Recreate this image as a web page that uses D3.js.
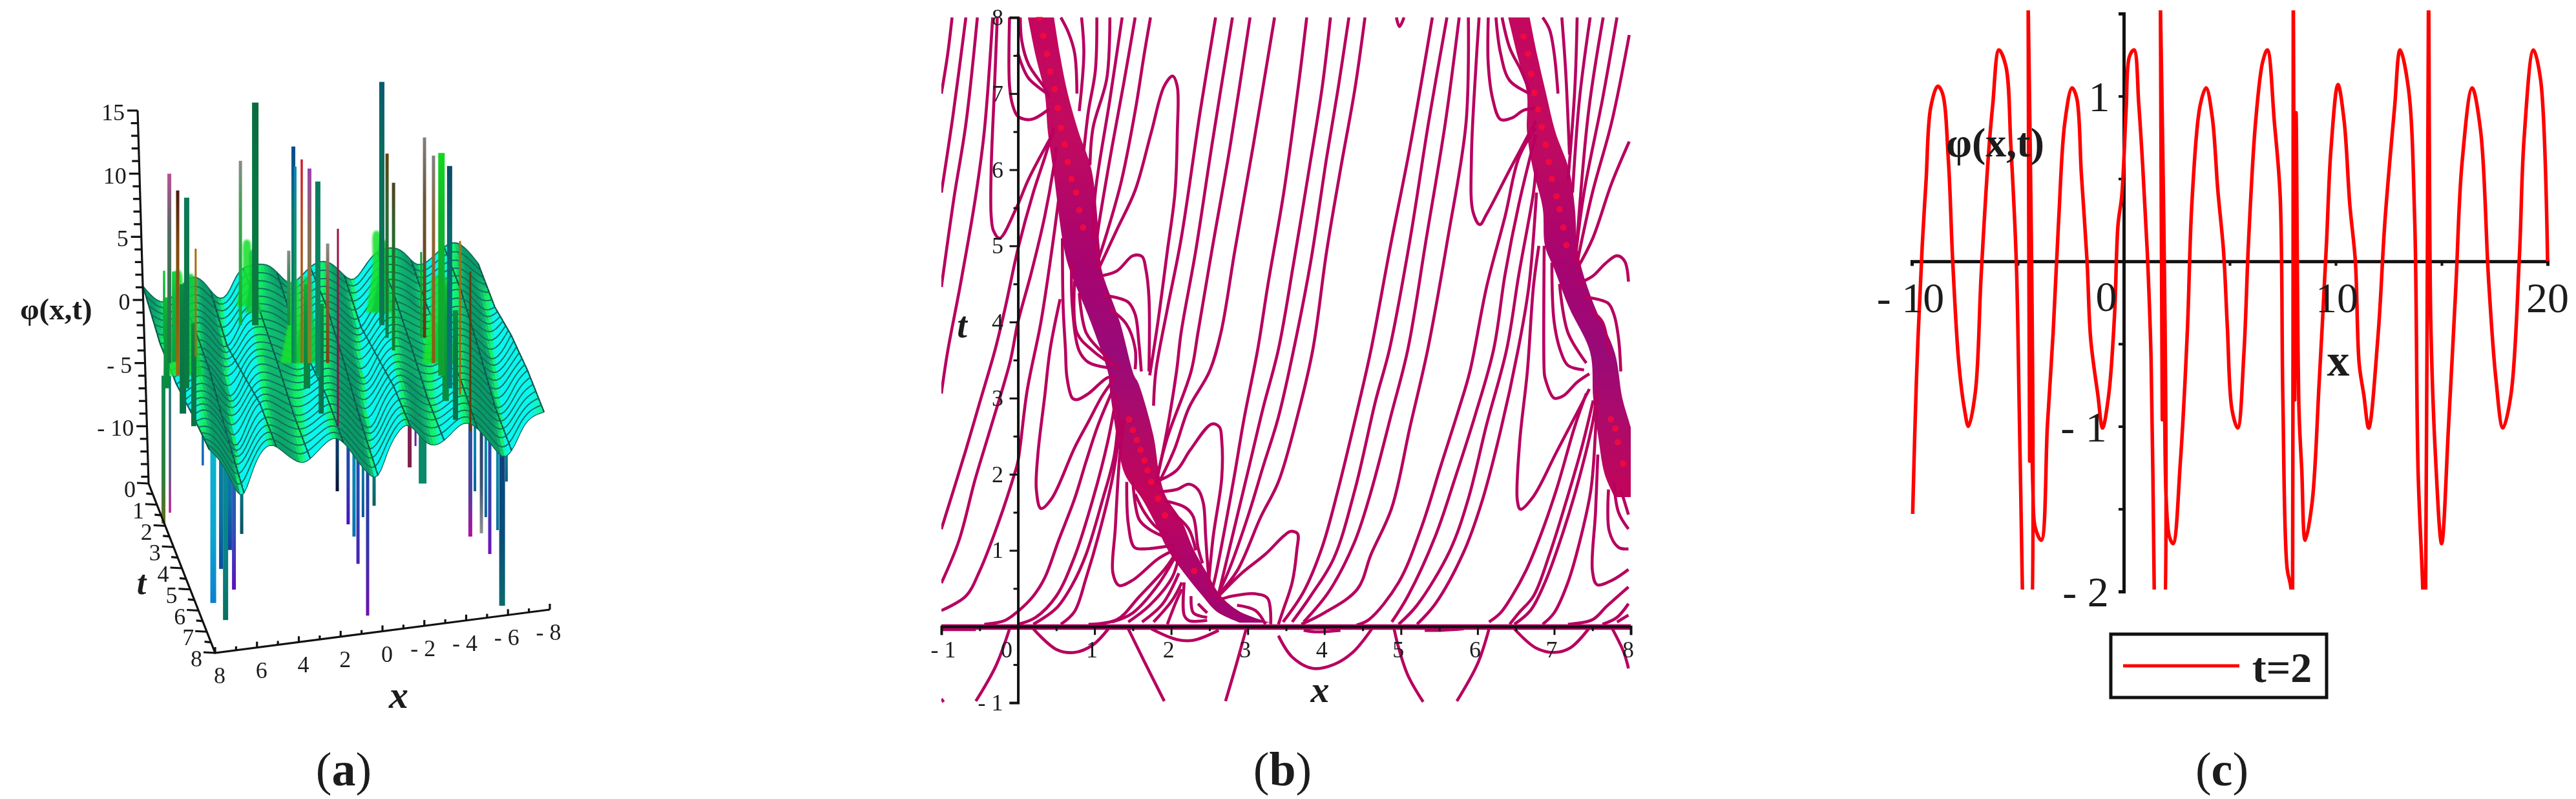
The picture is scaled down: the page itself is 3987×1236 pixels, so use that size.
<!DOCTYPE html>
<html><head><meta charset="utf-8">
<script src="https://cdn.jsdelivr.net/npm/d3@7"></script>
<style>html,body{margin:0;background:#fff}svg{display:block}text{font-family:"Liberation Serif",serif;fill:#1c1c1c}</style>
</head><body><svg id="c" width="3987" height="1236"></svg>
<script>
// ===== PANEL (a) DATA: phi read on the surface, rows t=0,2,4,6,8; columns x=8 ... -8 in 0.5 steps =====
const surfaceT=[0,2,4,6,8];
const surfaceX=d3.range(33).map(i=>8-i*0.5);
const phiT0=[.64,-.5,-1,-.4,.6,1,.2,-1.2,-1.2,.8,1.2,1.2,1.1,.2,-.9,-.3,.5,.85,.6,-.4,-1.3,-.3,.8,1.15,1.15,.7,-.6,-.5,.2,.8,1,.2,-1];
const phiT2=[-.54,-.72,-.12,.72,.8,-.22,-1.8,-1.15,.75,1.15,.95,.67,-.1,-.77,-.12,.6,.69,.15,-.9,-1.78,-.4,.75,1.19,.89,.3,-.66,-.42,.3,.75,.66,-.22,-1.45,-1.1];
const phiT4=[-.45,.15,.85,.6,-.65,-2.4,-1.1,.7,1.1,.7,.25,-.4,-.65,.05,.7,.5,-.3,-1.4,-2.25,-.5,.7,1.2,.6,-.1,-.7,-.35,.4,.7,.3,-.65,-1.9,-1.4,.05];
const phiT6=[.43,.98,.4,-1.07,-3,-1.05,.65,1.05,.45,-.18,-.74,-.52,.22,.8,.36,-.75,-1.9,-2.72,-.6,.65,1.26,.36,-.5,-.79,-.27,.5,.65,-.01,-1.07,-2.35,-1.7,-.02,.6];
const phiT8=[1.1,.2,-1.5,-3.6,-1,.6,1,.2,-.6,-1.05,-.4,.4,.9,.2,-1.2,-2.4,-3.2,-.7,.6,1.3,.1,-.9,-.85,-.2,.6,.6,-.35,-1.5,-2.8,-2,-.1,.5,.64];
// tall spikes above the surface: position read on the x axis, top level, level where it enters the surface
const upX=[7.14,6.76,6.36,5.84,.43,-.25,-6.2,-6.67,7.01,6.61,6.18,5.75,7.26,3.61,2.9,1.3,1.08,.99,.68,.31,-.09,-.56,-1.05,-3.15,-3.4,-3.71,-5.19,-5.62,-6,-6.39,-6.89,-7.38,-5.03];
const upTop=[.2,2.26,1.24,-1.84,1.24,-.3,1.24,-.81,10,8.67,8.1,4.06,2.32,11.02,15.63,3.9,12.15,10.56,11.13,10.41,9.38,4.47,5.64,17.27,11.59,9.28,12.87,11.43,11.64,10.61,4.67,2.26,3.8];
const upBase=[-7,-4.9,-9,-10,-7,-9,-8,-9.5,-5,-6,-7,-4.5,-3,-2,-2,-2,-5,-5,-5,-5,-6,-5,-10,-2,-3,-4,-3,-5,-6,-7,-7.5,-10.4,-3];
// spikes below the surface
const downX=[7.29,6.98,5.41,4.91,4.54,4.32,4.11,3.92,3.55,-1.02,-1.54,-1.82,-2.01,-2.25,-2.47,-2.78,-4.48,-4.76,-5.1,-7.38,-7.6,-7.91,-8.12,-8.31,-8.68,-8.9,-9.11];
const downBottom=[-17.7,-16.85,-13.1,-24,-21.3,-25.35,-19.8,-22.94,-18.53,-15.15,-17.77,-18.74,-20.9,-17.2,-25,-16.3,-13.26,-11.57,-14.54,-18.74,-15.15,-18.48,-17.2,-20.12,-18.23,-24.22,-14.38];
// bright green humps around the spike clusters
const humpX=[6.6,6.0,3.3,3.0,1.0,.4,-2.9,-3.2,-5.7,-6.1];
const humpTop=[2.3,2.0,4.7,3.9,1.6,1.8,5.4,4.7,1.9,1.8];
const humpBase=[-6,-6,-.5,-1,-5,-5,-1,-1,-5,-5];

// ===== PANEL (b) DATA: contour polylines [x,t] =====
const contoursFarLeft=[
[[-1,7],[-.92,7.5],[-.86,8]],[[-1,5.7],[-.85,6.7],[-.68,8]],[[-1,4.46],[-.84,5.6],[-.68,6.6],[-.53,8]],
[[-1,3.06],[-.92,3.6],[-.75,4.5],[-.56,5.6],[-.44,6.5],[-.33,8]],
[[-.27,8],[-.31,7],[-.35,6],[-.35,5.4],[-.32,5.2],[-.24,5.1],[-.02,5.5],[.14,5.88],[.47,6.5]],
[[-.11,8],[-.11,7.1],[-.07,6.85],[0,6.7],[.17,6.66],[.41,6.8]],
[[.03,8],[.05,7.69],[.14,7.38],[.35,7.07],[.41,6.95]],[[0,7.53],[.05,7.38],[.14,7.2],[.41,6.98]],
[[-1,1.28],[-.68,2.32],[-.5,2.94],[-.3,3.63],[-.17,4.17],[0,4.96],[.2,5.7],[.35,6.16],[.47,6.55]],
[[-1,.57],[-.77,1.13],[-.56,1.93],[-.35,2.63],[-.1,3.49],[0,4],[.17,4.63],[.35,5.39],[.47,6.06],[.5,6.3]],
[[-1,.21],[-.68,.4],[-.5,.73],[-.26,1.35],[-.05,1.99],[0,2.17],[.12,3.1],[.3,4],[.45,5],[.53,5.6]],
[[-.44,.03],[-.17,.08],[0,.2],[.2,.4],[.35,.64],[.53,1.13],[.74,1.68],[.89,2.17],[1.04,2.63],[1.23,3.09]],
[[0,.03],[.23,.12],[.5,.4],[.74,.92],[.98,1.68],[1.17,2.42],[1.29,3.06]],
[[.56,.03],[.74,.2],[.89,.64],[1.05,1.19],[1.23,1.93],[1.35,2.72]],
[[.2,.03],[.5,.24],[.71,.55],[.89,.95],[1.1,1.65],[1.26,2.26],[1.32,2.9]],
[[.55,4.3],[.42,3.64],[.35,3.03],[.26,2.26],[.24,1.8],[.3,1.55],[.44,1.68],[.74,2.35],[.92,2.69],[1.1,3.03],[1.26,3.26]],
[[.58,5.1],[.59,4.2],[.62,3.64],[.64,3.27],[.71,3],[.77,2.98],[.92,3.06],[1.17,3.27],[1.27,3.28]],
[[.7,4.78],[.71,4.2],[.8,3.62],[.92,3.47],[1.17,3.4]],[[.74,4.54],[.77,3.86],[.98,3.62],[1.23,3.44]],[[.8,4.38],[.89,3.86],[1.1,3.6],[1.32,3.38]]
];
const contoursBandOneRight=[
[[1.73,8],[1.65,7.53],[1.53,6.77],[1.35,5.85],[1.17,5.2],[1.02,4.73]],[[1.53,8],[1.38,7.13],[1.23,6.31],[1.05,5.24],[1.01,4.93]],
[[1.36,8],[1.2,6.92],[1.01,5.7],[.98,5.09]],[[1.2,8],[1.16,7.2],[.98,6.55],[.94,6.06]],[[1.03,8],[1.01,7.3],[.92,6.77],[.86,6.25]],
[[.83,8],[.86,7.53],[.8,6.77]],[[.56,8],[.66,7.8],[.74,7.53],[.77,7]],
[[1.05,4.69],[1.29,5.21],[1.53,5.73],[1.74,6.49],[1.91,7.1],[2.02,7.23],[2.08,7.09],[2.08,6.49],[2.05,5.7],[1.95,4.93],[1.83,4.02],[1.72,3.3]],
[[1.05,4.6],[1.29,4.67],[1.5,4.87],[1.62,4.86],[1.67,4.69],[1.71,4.32],[1.71,3.35]],
[[1.1,4.35],[1.29,4.32],[1.44,4.26],[1.53,4.1],[1.58,3.71],[1.61,3.35]],[[1.2,4.17],[1.41,3.98],[1.53,3.65],[1.53,3.38]],
[[2.58,8],[2.38,6.77],[2.13,5.09],[1.95,4.17],[1.8,3.35],[1.77,2.9]],[[2.8,8],[2.53,6.31],[2.32,4.93],[2.13,3.86],[2.07,3.35],[1.95,2.6],[1.83,2]],
[[3.03,8],[2.77,6.31],[2.53,4.93],[2.35,3.86],[2.26,3.35],[1.95,2.48],[1.8,1.9]],[[3.35,8],[3.07,6.31],[2.83,4.93],[2.65,3.86],[2.5,3.35],[2.23,2.87],[2.04,2.32],[1.83,1.87]],
[[1.8,1.9],[2.07,2.05],[2.25,2.32],[2.53,2.66],[2.63,2.62],[2.66,2.45],[2.66,1.95],[2.55,1.19],[2.49,.58]],
[[1.83,1.77],[2.07,1.8],[2.23,1.87],[2.35,1.8],[2.42,1.62],[2.45,1.19],[2.47,.89],[2.5,.55]],
[[1.92,1.65],[2.19,1.56],[2.29,1.44],[2.35,1.04],[2.41,.83]],[[2.01,1.5],[2.23,1.28],[2.32,1]],
[[2.6,.34],[2.8,.4],[3.1,.43],[3.26,.37],[3.3,.03]],[[2.86,.28],[3.1,.21],[3.23,.03]],
[[2.62,.4],[2.92,.7],[3.23,.95],[3.47,1.19],[3.56,1.25],[3.65,1.22],[3.64,1],[3.58,.58],[3.46,.21],[3.4,.03]]
];
const contoursBandOneLower=[
[[2.17,.58],[2.17,.15],[2.23,.08],[2.47,.08]],[[2.26,.4],[2.29,.18],[2.47,.12]],[[2.35,.3],[2.47,.18]],
[[.92,.03],[1.29,.09],[1.59,.4],[1.92,.76],[2.07,.98]],[[1.23,.06],[1.5,.18],[1.83,.55],[2.07,.95]],[[1.44,.06],[1.71,.27],[2.01,.64],[2.1,.92]],
[[1.62,.06],[1.89,.3],[2.1,.7]],[[1.77,.06],[2.01,.34],[2.14,.58]],[[1.95,.03],[2.07,.34],[2.14,.49]],
[[1.39,2.72],[1.33,2.26],[1.27,1.28],[1.24,.7],[1.32,.54],[1.5,.61],[1.83,.89],[2.05,1.01]],
[[1.42,1.9],[1.44,1.35],[1.52,1.04],[1.65,1.02],[2.05,1.07]],[[1.5,1.9],[1.58,1.41],[1.71,1.28],[1.95,1.16]],[[1.53,1.74],[1.65,1.5],[1.8,1.31],[1.95,1.22]]
];
const contoursMiddle=[
[[3.77,8],[3.67,7.17],[3.47,5.7],[3.26,4.47],[3.13,3.64],[2.95,2.72],[2.83,2.01],[2.71,1.34],[2.56,.58],[2.49,.35]],
[[4.08,8],[3.97,7.07],[3.8,6],[3.6,4.78],[3.4,3.64],[3.2,2.87],[3.02,2.11],[2.86,1.44],[2.62,.43]],
[[4.32,8],[4.18,7.07],[4.03,6.16],[3.82,4.78],[3.6,3.64],[3.4,2.75],[3.2,2.1],[3,1.44],[2.75,.73],[2.6,.4]],
[[4.53,8],[4.4,7.07],[4.21,6],[4.03,4.93],[3.85,3.64],[3.66,2.81],[3.4,1.9],[3.17,1.44],[2.86,.73],[2.6,.4]],
[[5.41,8],[5.12,6.31],[4.85,4.93],[4.61,3.64],[4.43,2.84],[4.18,1.8],[3.97,1.04],[3.73,.46],[3.46,.06]],
[[5.6,8],[5.36,6.62],[5.12,5.09],[4.85,3.64],[4.67,2.97],[4.4,1.8],[4.12,.89],[3.82,.4],[3.58,.06]],
[[5.76,8],[5.58,6.62],[5.33,5.09],[5.09,3.64],[4.88,2.81],[4.6,1.74],[4.39,1.1],[4.06,.46],[3.73,.06]],
[[5.88,8],[5.85,6.62],[5.61,5.09],[5.35,3.64],[5.12,2.63],[4.88,1.56],[4.61,.95],[4.43,.49],[4,.18],[3.7,.03]],
[[4.94,8],[4.98,7.88],[5.04,8]],
[[6.76,6.55],[6.54,6.16],[6.36,5.39],[6.12,4.47],[5.9,3.35],[5.76,2.87],[5.52,2.11],[5.27,1.31],[4.97,.58],[4.58,.09],[4.42,.02]],
[[6.76,6.46],[6.54,5.55],[6.36,4.63],[6.21,3.64],[5.97,2.78],[5.7,1.93],[5.45,1.19],[5.09,.4],[4.88,.06]],
[[6.76,6],[6.73,5.7],[6.54,4.63],[6.38,3.64],[6.12,2.66],[5.88,1.68],[5.64,1],[5.21,.28],[4.97,.03]],
[[6.77,5.7],[6.67,4.47],[6.53,3.64],[6.3,2.57],[6.06,1.65],[5.82,.98],[5.45,.3],[5.21,.03]]
];
const contoursBandTwo=[
[[6.02,8],[5.98,7.38],[5.92,6.16],[5.94,5.45],[6.03,5.28],[6.12,5.42],[6.42,6],[6.76,6.64]],
[[6.14,8],[6.14,7.38],[6.2,6.92],[6.3,6.66],[6.45,6.68],[6.6,6.78],[6.76,6.81]],
[[6.24,8],[6.3,7.53],[6.42,7.17],[6.68,7]],[[6.32,8],[6.42,7.6],[6.57,7.3],[6.69,7]],
[[6.85,8],[6.94,7.84],[7,7.53],[7.05,7]],[[7.1,8],[7.15,7.3],[7.2,6.2]],[[7.3,8],[7.27,7.07],[7.18,5.85]],[[7.47,8],[7.33,6.92],[7.24,5.7]],
[[7.64,8],[7.45,6.77],[7.3,5.09]],[[7.82,8],[7.63,6.92],[7.39,5.7],[7.27,4.78]],[[7.98,7.77],[7.75,6.62],[7.5,5.7],[7.3,4.78]],[[7.98,6.37],[7.75,5.82],[7.5,5.09],[7.3,4.7]],
[[7.3,4.5],[7.5,4.6],[7.67,4.77],[7.82,4.87],[7.92,4.8],[7.97,4.53]],[[7.39,4.33],[7.7,4.25],[7.78,4.1],[7.84,3.79],[7.87,3.35]],[[7.48,4.15],[7.63,4],[7.72,3.57]],
[[6.8,5],[6.73,4.47],[6.65,3.35],[6.55,2.42],[6.52,1.65],[6.56,1.54],[6.73,1.71],[7.03,2.29],[7.3,2.81],[7.46,3.12]],
[[6.87,5],[6.87,3.35],[6.88,3.27],[7,3],[7.12,3.03],[7.3,3.21],[7.46,3.32]],
[[6.97,4.78],[7,4],[7.09,3.6],[7.18,3.43],[7.39,3.37]],[[7.07,4.5],[7.18,3.86],[7.42,3.46]],
[[6.85,.03],[7,.18],[7.18,.58],[7.33,1.1],[7.48,1.8],[7.54,2.57],[7.56,3.03]],
[[6.48,.03],[6.69,.21],[6.88,.58],[7.12,1.25],[7.33,1.96],[7.51,2.72],[7.56,3.12]],
[[6.42,.03],[6.54,.18],[6.73,.4],[6.94,.95],[7.15,1.62],[7.36,2.35],[7.51,2.97]],
[[6.15,.06],[6.3,.18],[6.45,.4],[6.63,.73],[6.82,1.19],[7.03,1.8],[7.27,2.63],[7.42,3.06]],
[[7.18,.03],[7.5,.09],[7.69,.27],[7.97,.52]],[[7.63,.03],[7.82,.12],[7.97,.3]],[[7.82,.06],[7.97,.15]],
[[7.57,2.26],[7.54,1.5],[7.5,.73],[7.56,.55],[7.76,.61],[7.97,.75]],[[7.71,1.8],[7.72,1.25],[7.84,1.04],[7.97,1.02]],[[7.78,1.9],[7.84,1.5],[7.97,1.28]],[[7.87,1.8],[7.97,1.47]]
];
const contoursBelow=[
[[.2,-.03],[.5,-.3],[.74,-.34],[.98,-.24],[1.18,-.03]],[[1.44,-.03],[1.65,-.46],[1.91,-.98]],[[1.74,-.03],[2.07,-.17],[2.29,-.18],[2.62,-.05]],
[[2.98,-.03],[2.85,-.5],[2.71,-.98]],[[-.11,-.03],[-.29,-.52],[-.55,-.98]],[[-1,-.95],[-.97,-.99]],
[[3.4,-.12],[3.58,-.4],[3.85,-.55],[4.12,-.5],[4.37,-.34],[4.62,-.03]],[[3.73,-.05],[3.88,-.07],[4.21,-.05]],
[[4.91,-.03],[4.97,-.28],[5.09,-.64],[5.29,-.99]],[[6.15,-.03],[6,-.49],[5.73,-.98]],[[5.31,-.05],[5.52,-.05],[5.82,-.03]],
[[6.48,-.03],[6.76,-.28],[7,-.34],[7.21,-.28],[7.45,-.03]],[[7.76,-.03],[7.91,-.34],[7.97,-.55]],[[-1,-.04],[-.55,-.04]],
[[-1,.01],[8,.01]]
];
// the two dense bands of contours: t, centre x, width in x
const bandT=[8,7.5,7,6.5,6,5,4.7,4,3.3,3.2,2.5,2,1.7,1.4,1,.7,.4,.2,.05];
const bandOneCentre=[.3,.39,.5,.59,.71,.83,.88,1.14,1.35,1.38,1.53,1.62,1.77,1.95,2.13,2.32,2.53,2.74,3.1];
const bandOneWidth=[.34,.32,.3,.4,.5,.47,.42,.38,.33,.38,.48,.45,.33,.36,.34,.3,.24,.3,.4];
const bandTwoT=[8,7.5,7,6.5,6,5.5,5,4.7,4.2,3.6,3,2.5,2,1.7];
const bandTwoCentre=[6.54,6.65,6.77,6.83,6.96,7.06,7.09,7.18,7.36,7.63,7.7,7.8,7.86,7.91];
const bandTwoWidth=[.28,.26,.25,.37,.47,.42,.42,.36,.34,.32,.38,.45,.4,.24];
const hotX=[.28,.33,.38,.42,.48,.52,.56,.61,.65,.7,.76,.8,.85,1.45,1.5,1.55,1.6,1.65,1.69,1.74,1.83,1.92,2.3,6.6,6.66,6.7,6.74,6.79,6.84,6.89,6.93,6.97,7.03,7.07,7.12,7.16,7.74,7.8,7.83,7.9];
const hotT=[8,7.76,7.52,7.29,7.06,6.81,6.55,6.33,6.1,5.88,5.7,5.47,5.24,2.72,2.58,2.45,2.32,2.18,2.05,1.9,1.68,1.46,.73,7.75,7.52,7.26,7.01,6.79,6.56,6.33,6.1,5.88,5.65,5.48,5.24,5.01,2.72,2.6,2.42,2.14];

// ===== PANEL (c) DATA =====
const seriesX=[-9.96,-9.78,-9.51,-9.33,-9.11,-8.78,-8.56,-8.27,-8.07,-7.78,-7.51,-7.33,-7,-6.73,-6.38,-6.18,-5.89,-5.56,-5.33,-5.07,-4.93,-4.78,-4.71,-4.58,-4.51,-4.44,-4.38,-4.29,-4.18,-3.89,-3.6,-3.33,-3.07,-2.78,-2.44,-2.22,-2,-1.73,-1.56,-1.22,-1,-.71,-.44,-.27,-.09,.11,.27,.49,.71,.89,1.11,1.29,1.44,1.51,1.67,1.73,1.82,1.89,2,2.16,2.33,2.67,3,3.22,3.6,3.89,4.18,4.44,4.71,4.89,5.11,5.38,5.67,5.89,6.22,6.56,6.78,7.11,7.38,7.51,7.71,7.89,7.96,8,8.07,8.13,8.27,8.4,8.56,8.89,9.22,9.56,9.78,10.11,10.4,10.67,10.93,11.11,11.33,11.56,12,12.33,12.78,13.04,13.44,13.73,13.89,14.11,14.22,14.38,14.49,14.71,15,15.33,15.67,15.96,16.44,16.84,17.22,17.56,17.89,18.27,18.67,18.89,19.33,19.67,20];
const seriesPhi=[-1.53,-.71,.09,.48,.93,1.06,1.02,.6,0,-.62,-.9,-1,-.79,-.09,.65,.95,1.28,1.18,.71,0,-.9,-2,-2.6,-2.6,1.6,-1.21,-.71,-1.36,-1.61,-1.69,-.99,-.43,.25,.84,1.05,.99,.53,0,-.47,-.81,-1.01,-.81,-.34,.22,.4,.91,1.24,1.28,.95,.59,.06,-.59,-2,-2.6,-2.6,1.6,-.96,.09,-1.43,-1.67,-1.71,-1.22,-.43,.36,.94,1.05,.87,.43,.06,-.4,-.9,-1.01,-.56,.12,.84,1.21,1.28,.84,.4,-.84,-1.86,-1.98,-2.6,1.6,-.84,.9,-.9,-1.26,-1.69,-1.46,-.74,.09,.68,1.07,.85,.34,0,-.62,-.81,-1.01,-.45,.25,.93,1.28,1.04,.25,-1.27,-1.98,-2.6,1.6,-.37,-1.18,-1.71,-.99,-.16,.59,1.05,.79,-.12,-.71,-1.01,-.81,.03,.74,1.28,1.1,0];
const legendLabel="t=2";

// ===== DRAWING =====
const svg=d3.select("#c"),defs=svg.append("defs");
const txt=(g,s,x,y,size,o={})=>g.append("text").attr("x",x).attr("y",y).attr("font-size",size).attr("text-anchor",o.anchor||"middle").attr("dominant-baseline","central").attr("font-weight",o.weight||"normal").attr("font-style",o.style||"normal").text(s);

// ---- (a) ----
const A=svg.append("g");
const axX=d3.scaleLinear().domain([8,-8]).range([230,748]), axXy=d3.scaleLinear().domain([8,-8]).range([748,681]);
const tDx=d3.scaleLinear().domain([0,8]).range([0,103]), tDy=d3.scaleLinear().domain([0,8]).range([0,262]);
const zDx=d3.scaleLinear().domain([-15,15]).range([0,-17]), zDy=d3.scaleLinear().domain([-15,15]).range([0,-586]);
const P=(x,t,p)=>[axX(x)+tDx(t)+zDx(p),axXy(x)+tDy(t)+zDy(p)];
const zReadY=d3.scaleLinear().domain([-15,15]).range([757,171]);
const slopeColor=d3.scaleLinear().domain([-1.6,-.7,-.25,.2,.55,1]).range(["#0a9a64","#10c070","#10f060","#12f478","#10f5c8","#08f6f0"]).clamp(true);
function spike(g,xr,top,bot,w,c1,c2,flip,id){
  const gr=defs.append("linearGradient").attr("id",id).attr("x1",0).attr("x2",0).attr("y1",flip?1:0).attr("y2",flip?0:1);
  gr.append("stop").attr("offset","0%").attr("stop-color",c1);
  gr.append("stop").attr("offset","30%").attr("stop-color",d3.interpolateRgb(c1,c2)(.6));
  gr.append("stop").attr("offset","100%").attr("stop-color",c2);
  g.append("rect").attr("x",axX(xr)-w/2).attr("width",w).attr("y",zReadY(top)).attr("height",zReadY(bot)-zReadY(top)).attr("fill",`url(#${id})`);
}
const downStyle=[[6,"#6a6a20","#0a8a50"],[3.5,"#c01890","#0a7a70"],[3.5,"#1060c0","#0a8a90"],[9,"#0a80d0","#0ac0d0"],[6,"#0a50a0","#0a90a0"],[8,"#0a7060","#0a90a8"],[6,"#1040a0","#0a90b0"],[6,"#6010c0","#0a80b0"],[5,"#0a5060","#0a90a0"],
[5,"#0a1030","#0a5080"],[5,"#5010c0","#0a60a0"],[5,"#0a70b0","#0a90b0"],[5,"#5020b0","#0a60b0"],[4,"#0a50a0","#0a90a0"],[5,"#7010b0","#0a50a0"],[5,"#0a6060","#0a90a0"],
[6,"#802050","#802050"],[3,"#7020a0","#7020a0"],[12,"#0a8a6a","#0a8a6a"],[6,"#b010a0","#0a60a0"],[4,"#0a60a0","#0a90b0"],[5,"#909090","#0a2a60"],[4,"#0a60a0","#0a90b0"],[5,"#7010c0","#0a60a0"],[4,"#0a70a0","#0a90b0"],[9,"#0a6a70","#0a3a80"],[4,"#0a6080","#0a90a0"]];
downX.forEach((x,i)=>spike(A,x,-6,downBottom[i],downStyle[i][0],downStyle[i][1],downStyle[i][2],true,"dn"+i));
// surface
const NU=100,NT=48;
const rowAt=d3.piecewise(d3.interpolateArray,[phiT0,phiT2,phiT4,phiT6,phiT8]);
const grid=d3.range(NT+1).map(i=>{const f=d3.interpolateBasis(rowAt(i/NT));return d3.range(NU+1).map(j=>f(j/NU));});
const tOf=i=>surfaceT[0]+(surfaceT[4]-surfaceT[0])*i/NT, xOf=d3.scaleLinear().domain([0,NU]).range([surfaceX[0],surfaceX[32]]);
const lineGen=d3.line();
const sg=A.append("g");
for(let i=0;i<NT;i++){
  for(let j=0;j<NU;j++){
    const a=P(xOf(j),tOf(i),grid[i][j]),b=P(xOf(j+1),tOf(i),grid[i][j+1]),c=P(xOf(j+1),tOf(i+1),grid[i+1][j+1]),d=P(xOf(j),tOf(i+1),grid[i+1][j]);
    const s=(grid[i][j+1]+grid[i+1][j+1]-grid[i][j]-grid[i+1][j])/2/.16;
    const col=slopeColor(s);
    sg.append("polygon").attr("points",[a,b,c,d].join(" ")).attr("fill",col).attr("stroke",col).attr("stroke-width",.8);
  }
  for(let j=0;j<=NU;j+=10){
    sg.append("path").attr("d",lineGen([P(xOf(j),tOf(i),grid[i][j]),P(xOf(j),tOf(i+1),grid[i+1][j])])).attr("stroke","#0a5048").attr("stroke-width",2.2).attr("fill","none");
  }
  if(i%2==0) sg.append("path").attr("d",lineGen(d3.range(NU+1).map(j=>P(xOf(j),tOf(i),grid[i][j])))).attr("fill","none").attr("stroke","#0f7060").attr("stroke-width",1.9);
}
sg.append("path").attr("d",lineGen(d3.range(NU+1).map(j=>P(xOf(j),8,grid[NT][j])))).attr("fill","none").attr("stroke","#0d6050").attr("stroke-width",1.2);
// humps
const blur=defs.append("filter").attr("id","soft"); blur.append("feGaussianBlur").attr("stdDeviation",1.8);
const humps=A.append("g").attr("filter","url(#soft)");
const humpWidths=[44,38,34,26,46,46,32,34,40,40];
const humpLine=d3.line().curve(d3.curveCatmullRom);
humpX.forEach((x,i)=>{const w=humpWidths[i],cx0=axX(x),t0=zReadY(humpTop[i]),b0=zReadY(humpBase[i]);
  humps.append("path").attr("d",humpLine([[cx0-w/2,b0],[cx0-w/5,(t0*.55+b0*.45)],[cx0-4,t0],[cx0+4,t0],[cx0+w/5,(t0*.55+b0*.45)],[cx0+w/2,b0]])+"Z").attr("fill",i%2?"#10c838":"#14e02c").attr("opacity",.88);});
const upStyle=[[9,"#10c030","#0a8a40"],[8,"#12d840","#0aa040"],[10,"#0a8a40","#0a7048"],[8,"#0a9040","#0a7048"],[10,"#10b030","#0a8040"],[8,"#0a9040","#0a7048"],[10,"#10c030","#0a8a40"],[8,"#0a9040","#0a7048"],
[6,"#b85098","#10803c"],[5,"#4a1a10","#a06a10"],[8,"#0a7a58","#0a7a40"],[3,"#b06a10","#a06a10"],[3.5,"#18d030","#10a040"],[5,"#8a8a8a","#10b030"],[10,"#0a6a40","#0a7a40"],[5,"#8a8a8a","#109040"],[6,"#0a4a90","#0a8a60"],[4,"#1080c0","#10a040"],[3.5,"#d01830","#a06a10"],[6,"#a040b0","#7a8a20"],[8,"#0a7a60","#0a8a60"],[5,"#8a8a8a","#804010"],[3,"#a01040","#8a1050"],
[8,"#0a5a70","#0a7a50"],[5,"#604010","#108040"],[5,"#504020","#108030"],[5,"#808080","#603808"],[5,"#808080","#905810"],[10,"#10d820","#10a030"],[8,"#0a4a68","#0a7a70"],[3,"#b07010","#a06010"],[3,"#604010","#603808"],[3,"#10a030","#10a030"]];
upX.forEach((x,i)=>spike(A,x,upTop[i],upBase[i],upStyle[i][0],upStyle[i][1],upStyle[i][2],false,"up"+i));
// axes of (a)
const ink=A.append("g").attr("stroke","#111").attr("stroke-width",3.2).attr("fill","none");
const zPos=v=>[230-(v+15)/30*17,zReadY(v)];
ink.append("path").attr("d",lineGen([zPos(15),[230,748],[333,1010],[851,943]]));
const zMajor=[15,10,5,0,-5,-10];
d3.range(-14,16).forEach(v=>{const p=zPos(v),l=v%5==0?16:11;ink.append("path").attr("d",lineGen([p,[p[0]-l,p[1]]]));});
zMajor.forEach(v=>{const p=zPos(v);txt(A,v<0?"- "+(-v):""+v,p[0]-20,p[1]+3,36,{anchor:"end"});});
const tPos=t=>[230+tDx(t),748+tDy(t)];
d3.range(0,8.01,.5).forEach(t=>{const p=tPos(t),l=t%1==0?18:10;ink.append("path").attr("d",lineGen([p,[p[0]-l,p[1]-1]]));});
d3.range(0,9).forEach(t=>{const p=tPos(t);txt(A,""+t,p[0]-29,p[1]+9,36);});
d3.range(-8,8.01,1).forEach(x=>{const p=[axX(x)+103,axXy(x)+262],l=x%2==0?9:6;ink.append("path").attr("d",lineGen([p,[p[0],p[1]-l]]));});
d3.range(-8,9,2).forEach(x=>{const p=[axX(x)+103,axXy(x)+262];txt(A,x<0?"- "+(-x):""+x,p[0]+(x<0?-2:7),p[1]+35,36);});
txt(A,"φ(x,t)",87,478,47,{weight:"bold"});
txt(A,"t",219,901,52,{weight:"bold",style:"italic"});
txt(A,"x",617,1075,60,{weight:"bold",style:"italic"});
function cap(x,l){const t=svg.append("text").attr("x",x).attr("y",1190).attr("font-size",74).attr("text-anchor","middle").attr("dominant-baseline","central");t.append("tspan").text("(");t.append("tspan").attr("font-weight","bold").text(l);t.append("tspan").text(")");}
cap(532,"a");cap(1985,"b");cap(3439,"c");

// ---- (b) ----
const B=svg.append("g");
const bx=d3.scaleLinear().domain([-1,8]).range([1457,2524]), by=d3.scaleLinear().domain([-1,8]).range([1087,27]);
defs.append("clipPath").attr("id","clipB").append("rect").attr("x",1457).attr("y",26).attr("width",1067).attr("height",1062);
const bp=B.append("g").attr("clip-path","url(#clipB)");
const cline=d3.line().x(d=>bx(d[0])).y(d=>by(d[1])).curve(d3.curveCatmullRom.alpha(.5));
const grad=defs.append("linearGradient").attr("id","bandGrad").attr("gradientUnits","userSpaceOnUse").attr("x1",0).attr("x2",0).attr("y1",by(8)).attr("y2",by(0));
[[0,"#c4075f"],[.2,"#c00a60"],[.4,"#a80470"],[.55,"#990a78"],[.68,"#b00a68"],[.78,"#c2055a"],[.88,"#b0056a"],[1,"#9e0572"]].forEach(d=>grad.append("stop").attr("offset",d[0]).attr("stop-color",d[1]));
[[bandT,bandOneCentre,bandOneWidth],[bandTwoT,bandTwoCentre,bandTwoWidth]].forEach(([T,C,Wd])=>{
  const gen=d3.area().x0((d,i)=>bx(C[i]-Wd[i]/2)).x1((d,i)=>bx(C[i]+Wd[i]/2)).y(d=>by(d)).curve(d3.curveCatmullRom.alpha(.5));
  bp.append("path").attr("d",gen(T)).attr("fill","url(#bandGrad)");
});
[contoursFarLeft,contoursBandOneRight,contoursBandOneLower,contoursMiddle,contoursBandTwo,contoursBelow].forEach(fam=>{
  bp.selectAll(null).data(fam).enter().append("path").attr("d",cline).attr("fill","none").attr("stroke","#b7005f").attr("stroke-width",4.6);
});
bp.selectAll(null).data(hotX).enter().append("circle").attr("cx",d=>bx(d)).attr("cy",(d,i)=>by(hotT[i])).attr("r",5).attr("fill","#ff0a35").attr("opacity",.75);
bp.append("path").attr("d",d3.line()([[bx(-1),by(0)+1],[bx(8),by(0)+1]])).attr("stroke","#b7005f").attr("stroke-width",8);
const bAxX=B.append("g").attr("transform",`translate(0,${by(0)})`).call(d3.axisBottom(bx).tickValues(d3.range(-1,8.01,.5)).tickSize(13).tickFormat(""));
bAxX.selectAll("line").attr("stroke","#111").attr("stroke-width",3).attr("y2",(d)=>d%1==0?13:7);
bAxX.select(".domain").attr("stroke","#111").attr("stroke-width",4);
const bAxY=B.append("g").attr("transform",`translate(${bx(0)},0)`).call(d3.axisLeft(by).tickValues(d3.range(-1,8.01,.5)).tickSize(13).tickFormat(""));
bAxY.selectAll("line").attr("stroke","#111").attr("stroke-width",3).attr("x2",d=>d%1==0?-13:-7);
bAxY.select(".domain").attr("stroke","#111").attr("stroke-width",4);
d3.range(1,9).forEach(v=>txt(B,""+v,bx(v)-4,1005,36));
txt(B,"- 1",bx(-1)+3,1005,36);txt(B,"0",1558,1005,36);
d3.range(1,9).forEach(v=>txt(B,""+v,1544,by(v),36));
txt(B,"- 1",1533,1087,36);
txt(B,"t",1489,503,56,{weight:"bold",style:"italic"});
txt(B,"x",2043,1066,58,{weight:"bold",style:"italic"});

// ---- (c) ----
const C=svg.append("g");
const cx=d3.scaleLinear().domain([-10,20]).range([2959,3943]), cy=d3.scaleLinear().domain([-2,1.5]).range([915,21]);
defs.append("clipPath").attr("id","clipC").append("rect").attr("x",2950).attr("y",16).attr("width",1000).attr("height",896);
const cxAxis=C.append("g").attr("transform",`translate(0,${cy(0)})`).call(d3.axisBottom(cx).tickValues(d3.range(-10,20.01,5)).tickSize(7).tickFormat(""));
cxAxis.select(".domain").attr("stroke","#111").attr("stroke-width",5); cxAxis.selectAll("line").attr("stroke","#111").attr("stroke-width",4);
const cyAxis=C.append("g").attr("transform",`translate(${cx(0)},0)`).call(d3.axisLeft(cy).tickValues(d3.range(-2,1.51,.5)).tickSize(8).tickFormat(""));
cyAxis.select(".domain").attr("stroke","#111").attr("stroke-width",5); cyAxis.selectAll("line").attr("stroke","#111").attr("stroke-width",4);
C.append("path").attr("clip-path","url(#clipC)").attr("fill","none").attr("stroke","#ff0000").attr("stroke-width",5.5).attr("stroke-linejoin","round")
 .attr("d",d3.line().x(d=>cx(d)).y((d,i)=>cy(seriesPhi[i])).curve(d3.curveCatmullRom.alpha(.5))(seriesX));
txt(C,"- 10",2957,460,66);txt(C,"0",3260,458,66);txt(C,"10",3617,460,66);txt(C,"20",3943,460,66);
txt(C,"1",3249,149,66);txt(C,"- 1",3225,660,66);txt(C,"- 2",3228,915,66);
txt(C,"φ(x,t)",3088,220,64,{weight:"bold"});txt(C,"x",3619,557,70,{weight:"bold"});
C.append("rect").attr("x",3267).attr("y",981).attr("width",334).attr("height",98).attr("fill","#fff").attr("stroke","#111").attr("stroke-width",5);
C.append("path").attr("d",d3.line()([[3286,1030],[3466,1030]])).attr("stroke","#ff0000").attr("stroke-width",5);
txt(C,legendLabel,3532,1032,66,{weight:"bold"});
</script></body></html>
